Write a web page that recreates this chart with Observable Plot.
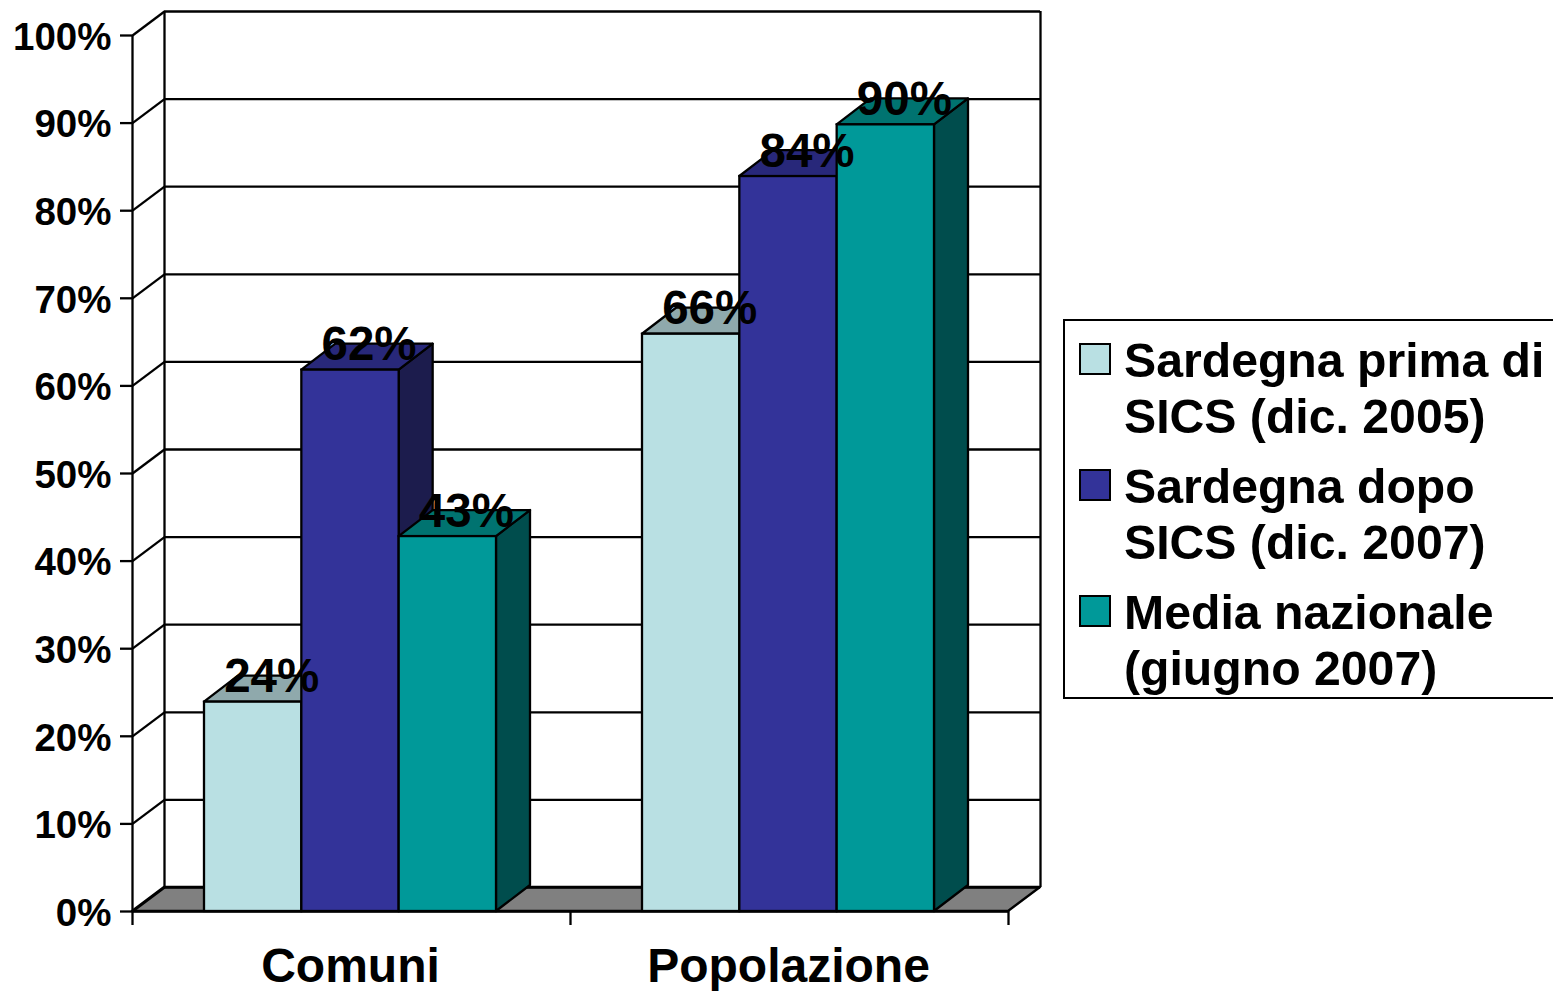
<!DOCTYPE html>
<html>
<head>
<meta charset="utf-8">
<script src="https://cdn.jsdelivr.net/npm/d3@7"></script>
<script src="https://cdn.jsdelivr.net/npm/@observablehq/plot@0.6"></script>
<style>
html,body{margin:0;padding:0;background:#fff;overflow:hidden}
body{position:relative;width:1553px;height:991px;font-family:"Liberation Sans",Arial,sans-serif}
#legend{position:absolute;left:1063px;top:319px;width:500px;height:376px;border:2px solid #000;box-sizing:content-box;background:#fff}
.item{position:absolute;left:59px;font-size:48.2px;font-weight:bold;line-height:56px;color:#000;white-space:nowrap}
.sw{position:absolute;left:14px;width:28px;height:28px;border:2px solid #000}
</style>
</head>
<body>
<div id="chart"></div>
<div id="legend"></div>
<script>
const categories = ["Comuni", "Popolazione"];
const seriesNames = [["Sardegna prima di", "SICS (dic. 2005)"], ["Sardegna dopo", "SICS (dic. 2007)"], ["Media nazionale", "(giugno 2007)"]];
const comuni = [23.9, 61.8, 42.8];
const popolazione = [65.9, 83.9, 89.8];
const yTicks = [0, 10, 20, 30, 40, 50, 60, 70, 80, 90, 100];
const frontColors = ["#B9E0E3", "#333399", "#009999"];
const topColors = ["#8FA9AC", "#28287A", "#007370"];
const sideColors = ["#8FA9AC", "#1C1C4D", "#004D4D"];

// geometry of the fake 3D, in data units
const wallDx = 32 / 438, wallDy = 24 / 8.76;
const barDx = 34 / 438, barDy = 26 / 8.76;
const gap = 72 / 438, barW = 292 / 3 / 438;
const lw = 2.3;

const bars = [comuni, popolazione].flatMap((vals, c) => vals.map((v, s) => {
  const l = c + gap + s * barW;
  return {c, s, v, l, r: l + barW};
}));

const barMarks = bars.flatMap(b => [
  Plot.areaY([{x: b.r, y1: 0, y2: b.v}, {x: b.r + barDx, y1: barDy, y2: b.v + barDy}],
    {x: "x", y1: "y1", y2: "y2", fill: sideColors[b.s], stroke: "#000", strokeWidth: lw}),
  Plot.areaX([{y: b.v, x1: b.l, x2: b.r}, {y: b.v + barDy, x1: b.l + barDx, x2: b.r + barDx}],
    {y: "y", x1: "x1", x2: "x2", fill: topColors[b.s], stroke: "#000", strokeWidth: lw}),
  Plot.rect([b], {x1: "l", x2: "r", y1: 0, y2: "v", fill: frontColors[b.s], stroke: "#000", strokeWidth: lw})
]);

const chart = Plot.plot({
  width: 1553, height: 991,
  marginLeft: 132, marginRight: 513, marginTop: 11, marginBottom: 80,
  style: {fontFamily: '"Liberation Sans", Arial, sans-serif', background: "#fff", color: "#000"},
  x: {domain: [0, 2 + wallDx], axis: null},
  y: {domain: [0, 100 + wallDy], axis: null},
  marks: [
    Plot.areaX([{y: 0, x1: 0, x2: 2}, {y: wallDy, x1: wallDx, x2: 2 + wallDx}],
      {y: "y", x1: "x1", x2: "x2", fill: "#808080", stroke: "#000", strokeWidth: lw}),
    Plot.ruleY(yTicks, {y: d => d + wallDy, x1: wallDx, x2: 2 + wallDx, stroke: "#000", strokeWidth: lw}),
    Plot.link(yTicks, {x1: 0, y1: d => d, x2: wallDx, y2: d => d + wallDy, stroke: "#000", strokeWidth: lw}),
    Plot.ruleX([wallDx, 2 + wallDx], {y1: wallDy, y2: 100 + wallDy, stroke: "#000", strokeWidth: lw}),
    Plot.ruleX([0], {y1: 0, y2: 100, stroke: "#000", strokeWidth: lw}),
    ...barMarks,
    Plot.ruleY([0], {x1: 0, x2: 2, stroke: "#000", strokeWidth: lw}),
    Plot.ruleX([0, 1, 2], {y1: 0, y2: -14 / 8.76, stroke: "#000", strokeWidth: lw}),
    Plot.ruleY(yTicks, {x1: -12 / 438, x2: 0, stroke: "#000", strokeWidth: lw}),
    Plot.text(yTicks, {x: 0, y: d => d, text: d => d + "%", textAnchor: "end", dx: -21, dy: 2,
      fontSize: 38.5, fontWeight: "bold", fill: "#000"}),
    Plot.axisX([0.5, 1.5], {anchor: "bottom", tickSize: 0, tickPadding: 36, label: null, dx: -1,
      tickFormat: d => categories[Math.floor(d)], fontSize: 48, fontWeight: "bold", fill: "#000"}),
    Plot.text(bars, {x: d => (d.l + d.r + barDx) / 2, y: d => d.v + wallDy, text: d => Math.round(d.v) + "%",
      dx: 1.5, dy: -1, fontSize: 47.5, fontWeight: "bold", fill: "#000"})
  ]
});
document.getElementById("chart").appendChild(chart);

const legend = document.getElementById("legend");
seriesNames.forEach((lines, i) => {
  const top = 11 + i * 126;
  const sw = document.createElement("div");
  sw.className = "sw";
  sw.style.top = top + 11 + "px";
  sw.style.background = frontColors[i];
  legend.appendChild(sw);
  const t = document.createElement("div");
  t.className = "item";
  t.style.top = top + "px";
  t.innerHTML = lines.join("<br>");
  legend.appendChild(t);
});
</script>
</body>
</html>
